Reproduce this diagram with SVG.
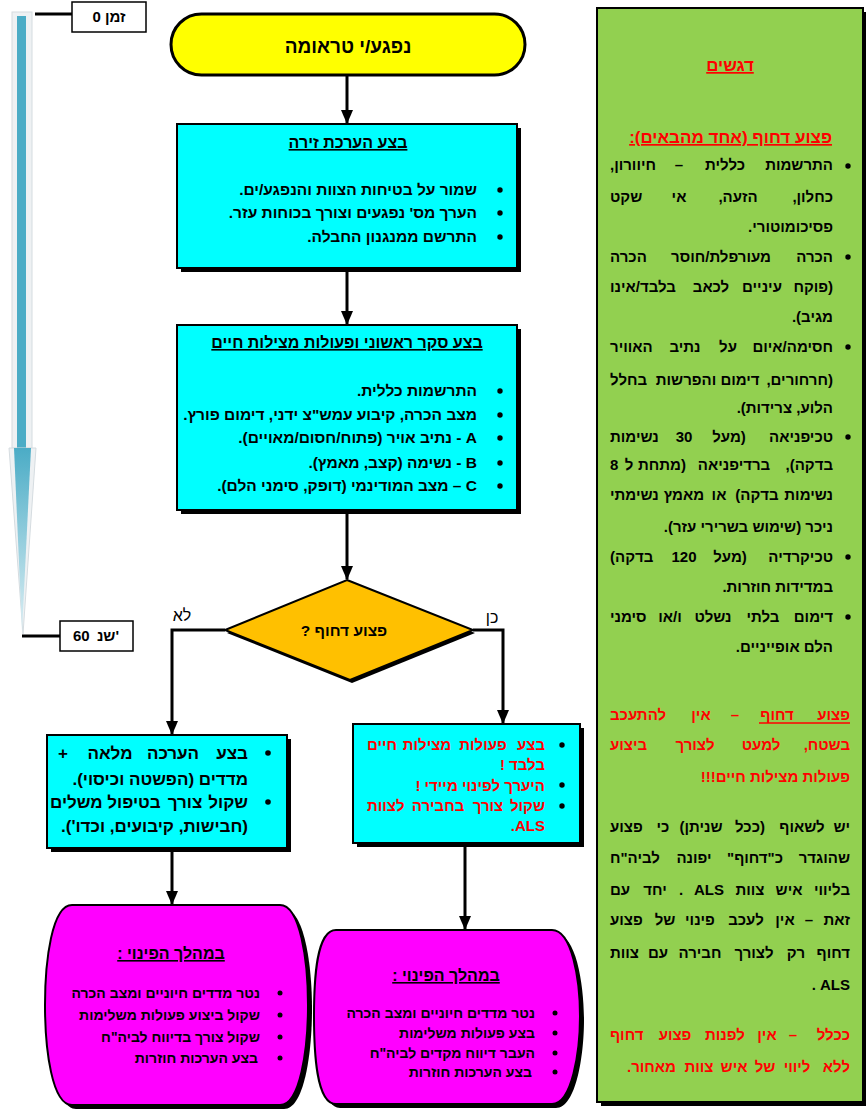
<svg xmlns="http://www.w3.org/2000/svg" width="866" height="1110" viewBox="0 0 866 1110">
<defs>
<style>
text{font-family:"Liberation Sans",Arial,"Noto Sans",sans-serif;font-weight:bold;direction:rtl;fill:#000}
.s14{font-size:14px}
.s15{font-size:15px}
.s155{font-size:15.5px}
.s16{font-size:16px}
.s17{font-size:17px}
.s19{font-size:19px}
.red{fill:#FF0000}
.ul{text-decoration:underline}
.box{fill:#00FFFF;stroke:#000;stroke-width:2}
.sh{fill:#000}
.pink{fill:#FF00FF;stroke:#000;stroke-width:2}
.con{fill:none;stroke:#000;stroke-width:3}
.dot{fill:#000}
</style>
<marker id="ah" markerUnits="userSpaceOnUse" markerWidth="14" markerHeight="14" viewBox="0 0 14 14" refX="13" refY="7" orient="auto">
<path d="M0,1 L14,7 L0,13 Z" fill="#000"/>
</marker>
<linearGradient id="tg" x1="0" y1="0" x2="0" y2="1">
<stop offset="0" stop-color="#4BACC6"/>
<stop offset="1" stop-color="#DDEFF4"/>
</linearGradient>
</defs>
<rect x="0" y="0" width="866" height="1110" fill="#fff"/>

<g id="timeline">
<rect x="12" y="12" width="20" height="436" fill="#EEF1F3" stroke="#D5DCE0" stroke-width="1"/>
<rect x="17" y="16" width="9" height="432" fill="#4BACC6"/>
<polygon points="9,448 36,448 23,634" fill="#EEF1F3" stroke="#D5DCE0" stroke-width="1"/>
<polygon points="14,448 31,448 22,632" fill="url(#tg)"/>
<line x1="35" y1="14" x2="72" y2="14" stroke="#000" stroke-width="3"/>
<line x1="22" y1="636" x2="60" y2="636" stroke="#000" stroke-width="3"/>
<rect x="72" y="2" width="74" height="30" fill="#fff" stroke="#000" stroke-width="1.5"/>
<text class="s15" x="109" y="22" text-anchor="middle">זמן 0</text>
<rect x="60" y="621" width="73" height="30" fill="#fff" stroke="#000" stroke-width="1.5"/>
<text class="s15" x="73" y="641" text-anchor="end">60</text>
<text class="s15" x="119" y="641">'שנ</text>
</g>

<g id="connectors">
<line class="con" x1="347" y1="75" x2="347" y2="123" marker-end="url(#ah)"/>
<line class="con" x1="347" y1="268" x2="347" y2="324" marker-end="url(#ah)"/>
<line class="con" x1="347" y1="510" x2="347" y2="579" marker-end="url(#ah)"/>
<polyline class="con" points="473,630 503,630 503,723" marker-end="url(#ah)"/>
<polyline class="con" points="225,630 172,630 172,734" marker-end="url(#ah)"/>
<line class="con" x1="172" y1="848" x2="172" y2="904" marker-end="url(#ah)"/>
<line class="con" x1="465" y1="843" x2="465" y2="929" marker-end="url(#ah)"/>
<text class="s16" x="492" y="623" text-anchor="middle" style="font-weight:normal">כן</text>
<text class="s16" x="182" y="621" text-anchor="middle" style="font-weight:normal">לא</text>
</g>

<g id="start">
<rect x="171" y="14" width="354" height="61" rx="30.5" fill="#FFFF00" stroke="#000" stroke-width="3"/>
<text class="s19" x="348" y="53" text-anchor="middle">נפגע/י טראומה</text>
</g>

<g id="scene">
<rect class="sh" x="181" y="128" width="340" height="144"/>
<rect class="box" x="177" y="124" width="340" height="144"/>
<text class="s16 ul" x="348" y="148" text-anchor="middle">בצע הערכת זירה</text>
<circle class="dot" cx="500" cy="190" r="2.7"/>
<circle class="dot" cx="500" cy="213" r="2.7"/>
<circle class="dot" cx="500" cy="237" r="2.7"/>
<text class="s155" x="477" y="195">שמור על בטיחות הצוות והנפגע/ים.</text>
<text class="s155" x="477" y="218">הערך מס' נפגעים וצורך בכוחות עזר.</text>
<text class="s155" x="477" y="242">התרשם ממנגנון החבלה.</text>
</g>

<g id="survey">
<rect class="sh" x="181" y="329" width="340" height="185"/>
<rect class="box" x="177" y="325" width="340" height="185"/>
<text class="s16 ul" x="347" y="348" text-anchor="middle">בצע סקר ראשוני ופעולות מצילות חיים</text>
<circle class="dot" cx="500" cy="391" r="2.7"/>
<circle class="dot" cx="500" cy="415" r="2.7"/>
<circle class="dot" cx="500" cy="438" r="2.7"/>
<circle class="dot" cx="500" cy="463" r="2.7"/>
<circle class="dot" cx="500" cy="486" r="2.7"/>
<text class="s155" x="477" y="396">התרשמות כללית.</text>
<text class="s155" x="477" y="420">מצב הכרה, קיבוע עמש"צ ידני, דימום פורץ.</text>
<text class="s155" x="477" y="443">A - נתיב אויר (פתוח/חסום/מאויים).</text>
<text class="s155" x="477" y="468">B - נשימה (קצב, מאמץ).</text>
<text class="s155" x="477" y="491">C – מצב המודינמי (דופק, סימני הלם).</text>
</g>

<g id="decision">
<polygon points="349,583 475,633 352,683 227,633" fill="#000"/>
<polygon points="347,580 473,630 350,680 225,630" fill="#FFC000" stroke="#000" stroke-width="2"/>
<text class="s155" x="344" y="636" text-anchor="middle">פצוע דחוף ?</text>
</g>

<g id="no-branch">
<rect class="sh" x="51" y="739" width="240" height="113"/>
<rect class="box" x="47" y="735" width="240" height="113"/>
<circle class="dot" cx="268" cy="753" r="2.8"/>
<circle class="dot" cx="268" cy="802" r="2.8"/>
<text class="s17" x="248" y="759">בצע</text>
<text class="s17" x="173" y="759" text-anchor="middle">הערכה</text>
<text class="s17" x="110" y="759" text-anchor="middle">מלאה</text>
<text class="s17" x="58" y="759" text-anchor="end">+</text>
<text class="s17" x="248" y="785">מדדים (הפשטה וכיסוי).</text>
<text class="s17" x="248" y="808">שקול</text>
<text class="s17" x="185" y="808" text-anchor="middle">צורך</text>
<text class="s17" x="134" y="808" text-anchor="middle">בטיפול</text>
<text class="s17" x="50" y="808" text-anchor="end">משלים</text>
<text class="s17" x="248" y="832">(חבישות, קיבועים, וכדו').</text>
</g>

<g id="yes-branch">
<rect class="sh" x="357" y="728" width="227" height="119"/>
<rect class="box" x="353" y="724" width="227" height="119"/>
<circle class="dot" cx="562" cy="745" r="2.7"/>
<circle class="dot" cx="562" cy="785" r="2.7"/>
<circle class="dot" cx="562" cy="806" r="2.7"/>
<text class="s15 red" x="545" y="750">בצע</text>
<text class="s15 red" x="483" y="750" text-anchor="middle">פעולות</text>
<text class="s15 red" x="427" y="750" text-anchor="middle">מצילות</text>
<text class="s15 red" x="367" y="750" text-anchor="end">חיים</text>
<text class="s15 red" x="545" y="770">בלבד !</text>
<text class="s15 red" x="545" y="791">היערך לפינוי מיידי !</text>
<text class="s15 red" x="545" y="811">שקול</text>
<text class="s15 red" x="488" y="811" text-anchor="middle">צורך</text>
<text class="s15 red" x="438" y="811" text-anchor="middle">בחבירה</text>
<text class="s15 red" x="367" y="811" text-anchor="end">לצוות</text>
<text class="s15 red" x="545" y="831">ALS.</text>
</g>

<g id="evac-left">
<path class="sh" d="M76,909 L284,909 C304,909 312,964 312,1009 C312,1054 304,1109 284,1109 L76,1109 C56,1109 49,1054 49,1009 C49,964 56,909 76,909 Z"/>
<path class="pink" d="M72,905 L280,905 C300,905 308,960 308,1005 C308,1050 300,1105 280,1105 L72,1105 C52,1105 45,1050 45,1005 C45,960 52,905 72,905 Z"/>
<text class="s16 ul" x="171" y="959" text-anchor="middle">במהלך הפינוי :</text>
<circle class="dot" cx="280" cy="993" r="2.5"/>
<circle class="dot" cx="280" cy="1015" r="2.5"/>
<circle class="dot" cx="280" cy="1037" r="2.5"/>
<circle class="dot" cx="280" cy="1058" r="2.5"/>
<text class="s14" x="260" y="998">נטר מדדים חיוניים ומצב הכרה</text>
<text class="s14" x="260" y="1020">שקול ביצוע פעולות משלימות</text>
<text class="s14" x="260" y="1042">שקול צורך בדיווח לביה"ח</text>
<text class="s14" x="258" y="1063">בצע הערכות חוזרות</text>
</g>

<g id="evac-right">
<path class="sh" d="M340,934 L556,934 C576,934 584,984 584,1020 C584,1056 576,1108 556,1108 L340,1108 C320,1108 322,1056 322,1020 C322,984 320,934 340,934 Z"/>
<path class="pink" d="M336,930 L552,930 C572,930 580,980 580,1016 C580,1052 572,1104 552,1104 L336,1104 C316,1104 314,1052 314,1016 C314,980 316,930 336,930 Z"/>
<text class="s16 ul" x="446" y="981" text-anchor="middle">במהלך הפינוי :</text>
<circle class="dot" cx="555" cy="1013" r="2.5"/>
<circle class="dot" cx="555" cy="1033" r="2.5"/>
<circle class="dot" cx="555" cy="1053" r="2.5"/>
<circle class="dot" cx="555" cy="1072" r="2.5"/>
<text class="s14" x="535" y="1018">נטר מדדים חיוניים ומצב הכרה</text>
<text class="s14" x="535" y="1038">בצע פעולות משלימות</text>
<text class="s14" x="535" y="1058">העבר דיווח מקדים לביה"ח</text>
<text class="s14" x="532" y="1077">בצע הערכות חוזרות</text>
</g>

<g id="notes">
<rect x="601" y="12" width="266" height="1094" fill="#000"/>
<rect x="597" y="8" width="266" height="1094" fill="#92D050" stroke="#000" stroke-width="2"/>
<text class="s17 red ul" x="730" y="71" text-anchor="middle">דגשים</text>
<text class="s17 red ul" x="832" y="143">פצוע דחוף (אחד מהבאים):</text>
<circle class="dot" cx="848" cy="166" r="2.7"/>
<circle class="dot" cx="848" cy="257" r="2.7"/>
<circle class="dot" cx="848" cy="347" r="2.7"/>
<circle class="dot" cx="848" cy="437" r="2.7"/>
<circle class="dot" cx="848" cy="557" r="2.7"/>
<circle class="dot" cx="848" cy="617" r="2.7"/>

<text class="s15" x="833" y="170">התרשמות</text>
<text class="s15" x="725" y="170" text-anchor="middle">כללית</text>
<text class="s15" x="679" y="170" text-anchor="middle">–</text>
<text class="s15" x="610" y="170" text-anchor="end">חיוורון,</text>

<text class="s15" x="833" y="202">כחלון,</text>
<text class="s15" x="738" y="202" text-anchor="middle">הזעה,</text>
<text class="s15" x="679" y="202" text-anchor="middle">אי</text>
<text class="s15" x="610" y="202" text-anchor="end">שקט</text>

<text class="s15" x="833" y="232">פסיכומוטורי.</text>

<text class="s15" x="833" y="262">הכרה</text>
<text class="s15" x="721" y="262" text-anchor="middle">מעורפלת/חוסר</text>
<text class="s15" x="610" y="262" text-anchor="end">הכרה</text>

<text class="s15" x="833" y="292">(פוקח</text>
<text class="s15" x="762" y="292" text-anchor="middle">עיניים</text>
<text class="s15" x="711" y="292" text-anchor="middle">לכאב</text>
<text class="s15" x="610" y="292" text-anchor="end">בלבד/אינו</text>

<text class="s15" x="833" y="322">מגיב).</text>

<text class="s15" x="833" y="352">חסימה/איום</text>
<text class="s15" x="728" y="352" text-anchor="middle">על</text>
<text class="s15" x="685" y="352" text-anchor="middle">נתיב</text>
<text class="s15" x="610" y="352" text-anchor="end">האוויר</text>

<text class="s15" x="833" y="385">(חרחורים,</text>
<text class="s15" x="740" y="385" text-anchor="middle">דימום</text>
<text class="s15" x="686" y="385" text-anchor="middle">והפרשות</text>
<text class="s15" x="610" y="385" text-anchor="end">בחלל</text>

<text class="s15" x="833" y="413">הלוע, צרידות).</text>

<text class="s15" x="833" y="442">טכיפניאה</text>
<text class="s15" x="729" y="442" text-anchor="middle">(מעל</text>
<text class="s15" x="684" y="442" text-anchor="middle">30</text>
<text class="s15" x="610" y="442" text-anchor="end">נשימות</text>

<text class="s15" x="833" y="470">בדקה),</text>
<text class="s15" x="734" y="470" text-anchor="middle">ברדיפניאה</text>
<text class="s15" x="662" y="470" text-anchor="middle">(מתחת</text>
<text class="s15" x="629" y="470" text-anchor="middle">ל</text>
<text class="s15" x="610" y="470" text-anchor="end">8</text>

<text class="s15" x="833" y="500">נשימות</text>
<text class="s15" x="757" y="500" text-anchor="middle">בדקה)</text>
<text class="s15" x="719" y="500" text-anchor="middle">או</text>
<text class="s15" x="684" y="500" text-anchor="middle">מאמץ</text>
<text class="s15" x="610" y="500" text-anchor="end">נשימתי</text>

<text class="s15" x="833" y="532">ניכר (שימוש בשרירי עזר).</text>

<text class="s15" x="833" y="562">טכיקרדיה</text>
<text class="s15" x="730" y="562" text-anchor="middle">(מעל</text>
<text class="s15" x="684" y="562" text-anchor="middle">120</text>
<text class="s15" x="610" y="562" text-anchor="end">בדקה)</text>

<text class="s15" x="833" y="592">במדידות חוזרות.</text>

<text class="s15" x="833" y="622">דימום</text>
<text class="s15" x="763" y="622" text-anchor="middle">בלתי</text>
<text class="s15" x="713" y="622" text-anchor="middle">נשלט</text>
<text class="s15" x="670" y="622" text-anchor="middle">ו/או</text>
<text class="s15" x="610" y="622" text-anchor="end">סימני</text>

<text class="s15" x="833" y="652">הלם אופייניים.</text>

<line x1="759" y1="723" x2="850" y2="723" stroke="#FF0000" stroke-width="1.5"/>
<text class="s15 red" x="850" y="720">פצוע</text>
<text class="s15 red" x="777" y="720" text-anchor="middle">דחוף</text>
<text class="s15 red" x="735" y="720" text-anchor="middle">–</text>
<text class="s15 red" x="701" y="720" text-anchor="middle">אין</text>
<text class="s15 red" x="610" y="720" text-anchor="end">להתעכב</text>

<text class="s15 red" x="850" y="750">בשטח,</text>
<text class="s15 red" x="761" y="750" text-anchor="middle">למעט</text>
<text class="s15 red" x="695" y="750" text-anchor="middle">לצורך</text>
<text class="s15 red" x="610" y="750" text-anchor="end">ביצוע</text>

<text class="s15 red" x="850" y="782">פעולות מצילות חיים!!!</text>

<text class="s15" x="850" y="832">יש</text>
<text class="s15" x="802" y="832" text-anchor="middle">לשאוף</text>
<text class="s15" x="750" y="832" text-anchor="middle">(ככל</text>
<text class="s15" x="701" y="832" text-anchor="middle">שניתן)</text>
<text class="s15" x="663" y="832" text-anchor="middle">כי</text>
<text class="s15" x="610" y="832" text-anchor="end">פצוע</text>

<text class="s15" x="850" y="863">שהוגדר</text>
<text class="s15" x="755" y="863" text-anchor="middle">כ"דחוף"</text>
<text class="s15" x="694" y="863" text-anchor="middle">יפונה</text>
<text class="s15" x="610" y="863" text-anchor="end">לביה"ח</text>

<text class="s15" x="850" y="895">בליווי</text>
<text class="s15" x="789" y="895" text-anchor="middle">איש</text>
<text class="s15" x="750" y="895" text-anchor="middle">צוות</text>
<text class="s15" x="709" y="895" text-anchor="middle">ALS</text>
<text class="s15" x="681" y="895" text-anchor="middle">.</text>
<text class="s15" x="655" y="895" text-anchor="middle">יחד</text>
<text class="s15" x="610" y="895" text-anchor="end">עם</text>

<text class="s15" x="850" y="925">זאת</text>
<text class="s15" x="809" y="925" text-anchor="middle">–</text>
<text class="s15" x="785" y="925" text-anchor="middle">אין</text>
<text class="s15" x="746" y="925" text-anchor="middle">לעכב</text>
<text class="s15" x="700" y="925" text-anchor="middle">פינוי</text>
<text class="s15" x="665" y="925" text-anchor="middle">של</text>
<text class="s15" x="610" y="925" text-anchor="end">פצוע</text>

<text class="s15" x="850" y="958">דחוף</text>
<text class="s15" x="796" y="958" text-anchor="middle">רק</text>
<text class="s15" x="754" y="958" text-anchor="middle">לצורך</text>
<text class="s15" x="700" y="958" text-anchor="middle">חבירה</text>
<text class="s15" x="658" y="958" text-anchor="middle">עם</text>
<text class="s15" x="610" y="958" text-anchor="end">צוות</text>

<text class="s15" x="850" y="990">ALS .</text>

<text class="s15 red" x="850" y="1040">ככלל</text>
<text class="s15 red" x="793" y="1040" text-anchor="middle">–</text>
<text class="s15 red" x="767" y="1040" text-anchor="middle">אין</text>
<text class="s15 red" x="725" y="1040" text-anchor="middle">לפנות</text>
<text class="s15 red" x="675" y="1040" text-anchor="middle">פצוע</text>
<text class="s15 red" x="610" y="1040" text-anchor="end">דחוף</text>

<text class="s15 red" x="850" y="1072">ללא</text>
<text class="s15 red" x="797" y="1072" text-anchor="middle">ליווי</text>
<text class="s15 red" x="765" y="1072" text-anchor="middle">של</text>
<text class="s15 red" x="734" y="1072" text-anchor="middle">איש</text>
<text class="s15 red" x="699" y="1072" text-anchor="middle">צוות</text>
<text class="s15 red" x="627" y="1072" text-anchor="end">מאחור.</text>
</g>
</svg>
